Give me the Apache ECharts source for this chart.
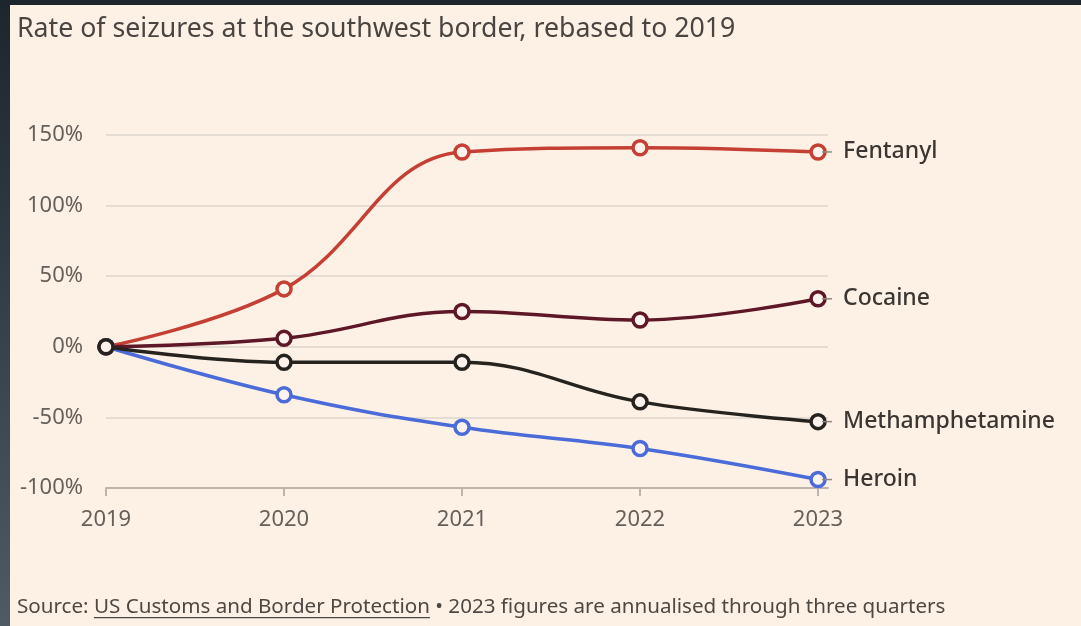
<!DOCTYPE html>
<html>
<head>
<meta charset="utf-8">
<script src="https://cdn.jsdelivr.net/npm/echarts@6/dist/echarts.min.js"></script>
<style>
  html, body { margin: 0; padding: 0; }
  body {
    width: 1081px; height: 626px; overflow: hidden;
    background: linear-gradient(180deg, #1d252d 0%, #3a4550 60%, #4f5a65 100%);
    position: relative;
  }
  #chart { position: absolute; left: 10px; top: 5px; width: 1071px; height: 621px; }
</style>
</head>
<body>
<div id="chart"></div>
<script>
// Chart data
const years = [2019, 2020, 2021, 2022, 2023];
const yTicks = [-100, -50, 0, 50, 100, 150];
const fentanyl = [0, 41, 138, 141, 138];
const cocaine = [0, 6, 25, 19, 34];
const heroin = [0, -34, -57, -72, -94];
const meth = [0, -11, -11, -39, -53];

const titleText = 'Rate of seizures at the southwest border, rebased to 2019';
const sourceLabel = 'Source: ';
const sourceLink = 'US Customs and Border Protection';
const sourceRest = ' \u2022 2023 figures are annualised through three quarters';

const FONT = '"Noto Sans", "Open Sans", sans-serif';
const FOOT_SIZE = 20.6;

const chart = echarts.init(document.getElementById('chart'));

// measure link width for the underline
const ctx = document.createElement('canvas').getContext('2d');
ctx.font = FOOT_SIZE + 'px ' + FONT;
const preW = ctx.measureText(sourceLabel).width;
const linkW = ctx.measureText(sourceLink).width;

function makeSeries(name, data, color, z) {
    return {
        name: name,
        type: 'line',
        data: data.map((v, i) => [years[i], v]),
        smooth: 0.4,
        z: z,
        symbol: 'circle',
        symbolSize: 14,
        showAllSymbol: true,
        lineStyle: { width: 3.5, color: color },
        itemStyle: { color: '#fdf3ec', borderColor: color, borderWidth: 3.5 },
        emphasis: { disabled: true },
        endLabel: {
            show: true,
            distance: 4,
            formatter: '{d|}{n|' + name + '}',
            rich: {
                d: { width: 10, height: 1.5, backgroundColor: '#8f8982', verticalAlign: 'middle' },
                n: { fontFamily: FONT, fontSize: 23, fontWeight: 500, color: '#3b3632', padding: [0, 0, 0, 11] }
            }
        }
    };
}

const option = {
    backgroundColor: '#fdf1e6',
    animation: false,
    title: {
        text: titleText,
        left: 7,
        top: 11,
        padding: 0,
        textStyle: { fontFamily: FONT, fontSize: 26.7, fontWeight: 'normal', color: '#4a4541' }
    },
    grid: { left: 96, right: 253, top: 130, bottom: 138 },
    xAxis: {
        type: 'value',
        min: 2019,
        max: 2023.056,
        interval: 1,
        axisLine: { show: true, onZero: false, lineStyle: { color: '#bdb5ac', width: 2 } },
        axisTick: { show: true, length: 8, lineStyle: { color: '#bdb5ac', width: 2 }, customValues: years },
        axisLabel: {
            customValues: years,
            margin: 21,
            fontFamily: FONT, fontSize: 22, color: '#66605a',
            formatter: v => String(v)
        },
        splitLine: { show: false }
    },
    yAxis: {
        type: 'value',
        min: -100,
        max: 150,
        interval: 50,
        axisLine: { show: false },
        axisTick: { show: false },
        axisLabel: {
            customValues: yTicks,
            margin: 23,
            fontFamily: FONT, fontSize: 22, color: '#66605a',
            formatter: v => v + '%'
        },
        splitLine: { lineStyle: { color: '#ddd5cc', width: 1.5 } }
    },
    series: [
        makeSeries('Fentanyl', fentanyl, '#c63f35', 2),
        makeSeries('Cocaine', cocaine, '#5e1726', 3),
        makeSeries('Heroin', heroin, '#4a6bd8', 4),
        makeSeries('Methamphetamine', meth, '#26231f', 5)
    ],
    graphic: [
        {
            type: 'text',
            left: 7,
            top: 592,
            style: {
                text: sourceLabel + sourceLink + sourceRest,
                font: FOOT_SIZE + 'px ' + FONT,
                fill: '#4e4843'
            }
        },
        {
            type: 'rect',
            left: 7 + preW,
            top: 612,
            shape: { width: linkW, height: 1.2 },
            style: { fill: '#4e4843' }
        }
    ]
};

chart.setOption(option);
</script>
</body>
</html>
